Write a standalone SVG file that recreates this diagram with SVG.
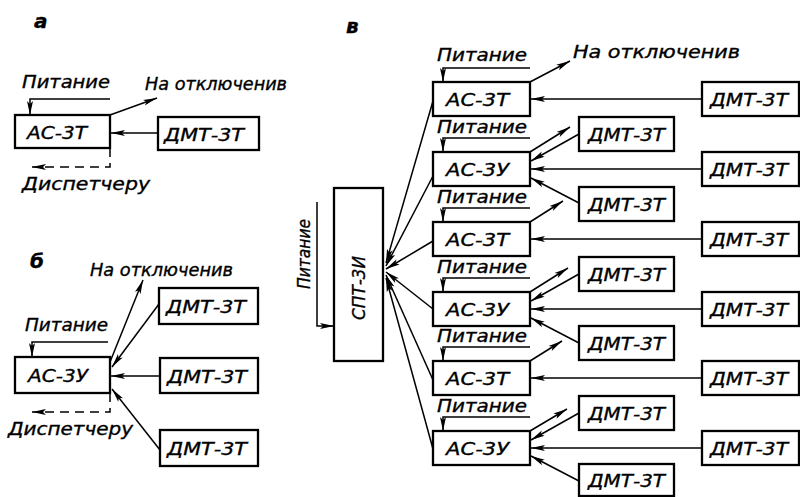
<svg xmlns="http://www.w3.org/2000/svg" width="800" height="497" viewBox="0 0 800 497">
<defs>
<marker id="ar" markerUnits="userSpaceOnUse" markerWidth="15" markerHeight="8" refX="14" refY="4" orient="auto">
<path d="M0,1 L14,4 L0,7 L3,4 z" fill="#000"/>
</marker>
<style>
.box{fill:#fff;stroke:#000;stroke-width:2.3}
.ln{fill:none;stroke:#000;stroke-width:1.5}
.dash{stroke-dasharray:9 6}
text{font-family:"DejaVu Sans","Liberation Sans",sans-serif;font-style:italic;fill:#000;stroke:#000;stroke-width:0.35}
.bl{font-size:18px}
.tx{font-size:17px}
.let{font-size:20px;font-weight:bold}
</style>
</defs>
<rect width="800" height="497" fill="#fff"/>

<!-- connectors -->
<g id="connectors" class="ln">
<!-- part a -->
<path d="M110,99 H30 V115" marker-end="url(#ar)"/>
<path d="M110,115 L157,98" marker-end="url(#ar)"/>
<path d="M158,133 H111" marker-end="url(#ar)"/>
<path class="dash" d="M110,148 V167 H32" marker-end="url(#ar)"/>
<!-- part b -->
<path d="M108,342 H32 V357" marker-end="url(#ar)"/>
<path d="M110,362 L143,280" marker-end="url(#ar)"/>
<path d="M159,304 L112,367" marker-end="url(#ar)"/>
<path d="M160,376 H111" marker-end="url(#ar)"/>
<path d="M160,450 L112,389" marker-end="url(#ar)"/>
<path class="dash" d="M110,393 V412 H32" marker-end="url(#ar)"/>
<!-- part v: power to SPT -->
<path d="M317,202 V326 H334" marker-end="url(#ar)"/>
<!-- AC to SPT -->
<path d="M433,101 L386,263" marker-end="url(#ar)"/>
<path d="M433,176 L386,266" marker-end="url(#ar)"/>
<path d="M433,241 L386,269" marker-end="url(#ar)"/>
<path d="M433,309 L386,272" marker-end="url(#ar)"/>
<path d="M433,380 L386,275" marker-end="url(#ar)"/>
<path d="M433,449 L386,278" marker-end="url(#ar)"/>
<!-- power lines for AC boxes -->
<path d="M530,68 H443 V82" marker-end="url(#ar)"/>
<path d="M530,138 H443 V152" marker-end="url(#ar)"/>
<path d="M530,208 H443 V222" marker-end="url(#ar)"/>
<path d="M530,278 H443 V292" marker-end="url(#ar)"/>
<path d="M530,347 H443 V361" marker-end="url(#ar)"/>
<path d="M530,417 H443 V431" marker-end="url(#ar)"/>
<!-- trip outputs -->
<path d="M530,82 L570,61" marker-end="url(#ar)"/>
<path d="M530,152 L570,127" marker-end="url(#ar)"/>
<path d="M530,222 L563,201" marker-end="url(#ar)"/>
<path d="M530,292 L568,268" marker-end="url(#ar)"/>
<path d="M530,361 L562,341" marker-end="url(#ar)"/>
<path d="M530,431 L567,409" marker-end="url(#ar)"/>
<!-- DMT right to AC -->
<path d="M702,99 H531" marker-end="url(#ar)"/>
<path d="M702,169 H531" marker-end="url(#ar)"/>
<path d="M702,239 H531" marker-end="url(#ar)"/>
<path d="M702,309 H531" marker-end="url(#ar)"/>
<path d="M702,378 H531" marker-end="url(#ar)"/>
<path d="M702,448 H531" marker-end="url(#ar)"/>
<!-- DMT middle to AC-3U -->
<path d="M579,134 L531,161" marker-end="url(#ar)"/>
<path d="M579,203 L531,178" marker-end="url(#ar)"/>
<path d="M579,274 L531,301" marker-end="url(#ar)"/>
<path d="M579,343 L531,318" marker-end="url(#ar)"/>
<path d="M579,413 L531,440" marker-end="url(#ar)"/>
<path d="M579,481 L531,456" marker-end="url(#ar)"/>
</g>

<!-- labels -->
<g id="labels">
<text class="let" x="34" y="28">а</text>
<text class="let" x="30" y="268">б</text>
<text class="let" x="346" y="33">в</text>
<text class="tx" x="22" y="88" textLength="88" lengthAdjust="spacingAndGlyphs">Питание</text>
<text class="tx" x="145" y="90" textLength="142" lengthAdjust="spacingAndGlyphs">На отключенив</text>
<text class="tx" x="22" y="190" textLength="128" lengthAdjust="spacingAndGlyphs">Диспетчеру</text>
<text class="tx" x="90" y="276" textLength="143" lengthAdjust="spacingAndGlyphs">На отключенив</text>
<text class="tx" x="25" y="331" textLength="83" lengthAdjust="spacingAndGlyphs">Питание</text>
<text class="tx" x="8" y="435" textLength="125" lengthAdjust="spacingAndGlyphs">Диспетчеру</text>
<text class="tx" transform="translate(310,289) rotate(-90)" x="0" y="0" textLength="70" lengthAdjust="spacingAndGlyphs">Питание</text>
<text class="tx" x="573" y="58" textLength="167" lengthAdjust="spacingAndGlyphs">На отключенив</text>
<text class="tx" x="437" y="61" textLength="90" lengthAdjust="spacingAndGlyphs">Питание</text>
<text class="tx" x="437" y="133" textLength="90" lengthAdjust="spacingAndGlyphs">Питание</text>
<text class="tx" x="437" y="203" textLength="90" lengthAdjust="spacingAndGlyphs">Питание</text>
<text class="tx" x="437" y="273" textLength="90" lengthAdjust="spacingAndGlyphs">Питание</text>
<text class="tx" x="437" y="342" textLength="90" lengthAdjust="spacingAndGlyphs">Питание</text>
<text class="tx" x="437" y="412" textLength="90" lengthAdjust="spacingAndGlyphs">Питание</text>
</g>

<!-- part a nodes -->
<g id="a-ac3t"><rect class="box" x="15" y="115" width="95" height="33"/><text class="bl" x="27" y="139" textLength="60" lengthAdjust="spacingAndGlyphs">АС-3Т</text></g>
<g id="a-dmt"><rect class="box" x="158" y="117" width="101" height="33"/><text class="bl" x="164" y="141" textLength="80" lengthAdjust="spacingAndGlyphs">ДМТ-3Т</text></g>

<!-- part b nodes -->
<g id="b-ac3u"><rect class="box" x="15" y="357" width="95" height="36"/><text class="bl" x="28" y="382" textLength="60" lengthAdjust="spacingAndGlyphs">АС-3У</text></g>
<g id="b-dmt1"><rect class="box" x="159" y="288" width="99" height="36"/><text class="bl" x="166" y="313" textLength="80" lengthAdjust="spacingAndGlyphs">ДМТ-3Т</text></g>
<g id="b-dmt2"><rect class="box" x="160" y="358" width="98" height="35"/><text class="bl" x="167" y="383" textLength="80" lengthAdjust="spacingAndGlyphs">ДМТ-3Т</text></g>
<g id="b-dmt3"><rect class="box" x="160" y="430" width="98" height="36"/><text class="bl" x="167" y="455" textLength="80" lengthAdjust="spacingAndGlyphs">ДМТ-3Т</text></g>

<!-- part v nodes -->
<g id="v-spt"><rect class="box" x="334" y="188" width="49" height="173"/><text class="bl" transform="translate(365,320) rotate(-90)" x="0" y="0" textLength="64" lengthAdjust="spacingAndGlyphs">СПТ-3И</text></g>

<g id="v-ac1"><rect class="box" x="433" y="82" width="97" height="34"/><text class="bl" x="446" y="106" textLength="63" lengthAdjust="spacingAndGlyphs">АС-3Т</text></g>
<g id="v-ac2"><rect class="box" x="433" y="152" width="97" height="34"/><text class="bl" x="446" y="176" textLength="63" lengthAdjust="spacingAndGlyphs">АС-3У</text></g>
<g id="v-ac3"><rect class="box" x="433" y="222" width="97" height="34"/><text class="bl" x="446" y="246" textLength="63" lengthAdjust="spacingAndGlyphs">АС-3Т</text></g>
<g id="v-ac4"><rect class="box" x="433" y="292" width="97" height="34"/><text class="bl" x="446" y="316" textLength="63" lengthAdjust="spacingAndGlyphs">АС-3У</text></g>
<g id="v-ac5"><rect class="box" x="433" y="361" width="97" height="34"/><text class="bl" x="446" y="385" textLength="63" lengthAdjust="spacingAndGlyphs">АС-3Т</text></g>
<g id="v-ac6"><rect class="box" x="433" y="431" width="97" height="34"/><text class="bl" x="446" y="455" textLength="63" lengthAdjust="spacingAndGlyphs">АС-3У</text></g>

<g id="v-r1"><rect class="box" x="702" y="82" width="97" height="34"/><text class="bl" x="710" y="106" textLength="78" lengthAdjust="spacingAndGlyphs">ДМТ-3Т</text></g>
<g id="v-r2"><rect class="box" x="702" y="152" width="97" height="34"/><text class="bl" x="710" y="176" textLength="78" lengthAdjust="spacingAndGlyphs">ДМТ-3Т</text></g>
<g id="v-r3"><rect class="box" x="702" y="222" width="97" height="34"/><text class="bl" x="710" y="246" textLength="78" lengthAdjust="spacingAndGlyphs">ДМТ-3Т</text></g>
<g id="v-r4"><rect class="box" x="702" y="292" width="97" height="34"/><text class="bl" x="710" y="316" textLength="78" lengthAdjust="spacingAndGlyphs">ДМТ-3Т</text></g>
<g id="v-r5"><rect class="box" x="702" y="361" width="97" height="34"/><text class="bl" x="710" y="385" textLength="78" lengthAdjust="spacingAndGlyphs">ДМТ-3Т</text></g>
<g id="v-r6"><rect class="box" x="702" y="431" width="97" height="34"/><text class="bl" x="710" y="455" textLength="78" lengthAdjust="spacingAndGlyphs">ДМТ-3Т</text></g>

<g id="v-m1"><rect class="box" x="579" y="117" width="95" height="34"/><text class="bl" x="588" y="141" textLength="77" lengthAdjust="spacingAndGlyphs">ДМТ-3Т</text></g>
<g id="v-m2"><rect class="box" x="579" y="187" width="95" height="34"/><text class="bl" x="588" y="211" textLength="77" lengthAdjust="spacingAndGlyphs">ДМТ-3Т</text></g>
<g id="v-m3"><rect class="box" x="579" y="257" width="95" height="34"/><text class="bl" x="588" y="281" textLength="77" lengthAdjust="spacingAndGlyphs">ДМТ-3Т</text></g>
<g id="v-m4"><rect class="box" x="579" y="326" width="95" height="34"/><text class="bl" x="588" y="350" textLength="77" lengthAdjust="spacingAndGlyphs">ДМТ-3Т</text></g>
<g id="v-m5"><rect class="box" x="579" y="396" width="95" height="34"/><text class="bl" x="588" y="420" textLength="77" lengthAdjust="spacingAndGlyphs">ДМТ-3Т</text></g>
<g id="v-m6"><rect class="box" x="579" y="464" width="95" height="32"/><text class="bl" x="588" y="487" textLength="77" lengthAdjust="spacingAndGlyphs">ДМТ-3Т</text></g>
</svg>
